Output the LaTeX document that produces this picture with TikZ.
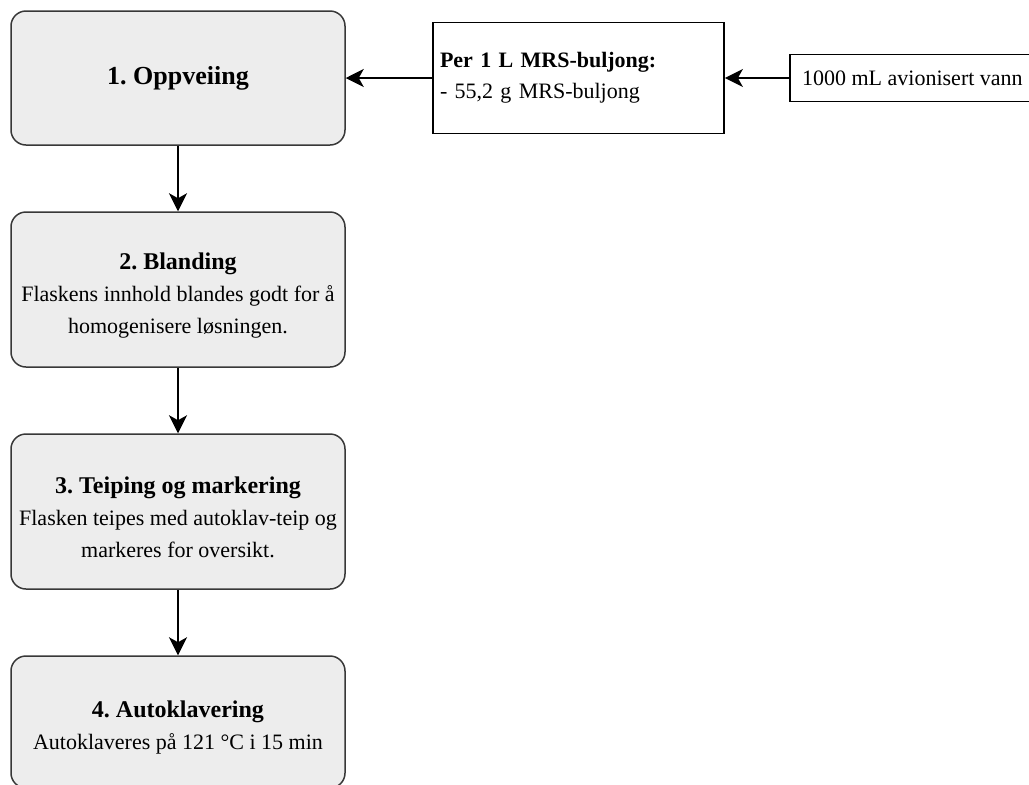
\documentclass[tikz,border=0pt]{standalone}
\usepackage{fontspec}
\setmainfont{Liberation Serif}
\usetikzlibrary{arrows.meta}
\newcommand{\lowerby}{\rule{0pt}{28pt}}
\begin{document}
\frenchspacing
\begin{tikzpicture}[x=1pt,y=-1pt,>={Stealth[length=18pt,width=18pt,inset=5pt]},line width=1.5pt,
	proc/.style={draw=black!78,fill=black!7,rounded corners=15pt,minimum width=334pt,inner sep=0pt,align=center,font=\fontsize{22}{32}\selectfont},
	info/.style={draw=black,line width=1.8pt,inner sep=0pt,font=\fontsize{22}{31}\selectfont}]
		\useasboundingbox (0,0) rectangle (1029,785);
		\node[proc,minimum height=134pt] (oppv) at (178,78) {\fontsize{26}{32}\selectfont\bfseries 1. Oppveiing};
		\node[proc,minimum height=155pt] (bland) at (178,289.5) {{\fontsize{24}{33}\selectfont\bfseries\lowerby 2. Blanding}\\Flaskens innhold blandes godt for å\\homogenisere løsningen.};
		\node[proc,minimum height=155pt] (teip) at (178,511.5) {{\fontsize{24}{33}\selectfont\bfseries\lowerby 3. Teiping og markering}\\Flasken teipes med autoklav-teip og\\markeres for oversikt.};
		\node[proc,minimum height=132pt] (autokl) at (178,722) {{\fontsize{24}{33}\selectfont\bfseries\lowerby 4. Autoklavering}\\Autoklaveres på 121 °C i 15 min};
		\node[info,text width=277pt,inner xsep=7pt,align=left,minimum height=111pt] (mrs) at (578.5,78) {\textbf{Per 1 L MRS-buljong:}\\- 55,2 g MRS-buljong};
		\node[info,minimum width=245pt,minimum height=47pt,anchor=west] (vann) at (789,78) {1000 mL avionisert vann};
		\draw[->] (vann) -- (mrs);
		\draw[->] (mrs) -- (oppv);
		\draw[->] (oppv) -- (bland);
		\draw[->] (bland) -- (teip);
		\draw[->] (teip) -- (autokl);
		\end{tikzpicture}
\end{document}
